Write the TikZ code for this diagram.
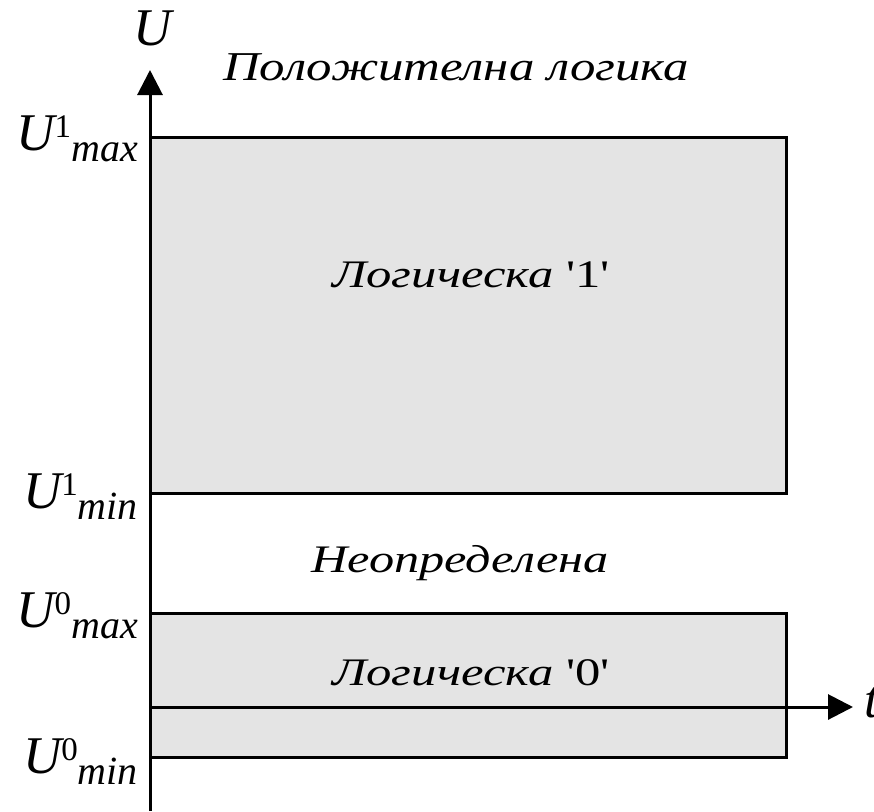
\documentclass[tikz,border=0pt]{standalone}
\usepackage{fontspec}
\setmainfont{Liberation Serif}[Ligatures=TeXOff]
\usetikzlibrary{arrows.meta}
\newcommand\ulbl[2]{{\fontsize{53}{60}\selectfont\itshape U}\raisebox{13pt}{\fontsize{33}{36}\selectfont #1}\raisebox{-11pt}{\fontsize{40}{44}\selectfont\itshape #2}}
\tikzset{
  zone/.style={draw=black,line width=3pt,fill=zonegray},
  axisline/.style={line width=3pt,-{Triangle[length=25pt,width=25pt]}},
  lbl/.style={inner sep=0pt,anchor=base east},
  txt/.style={inner sep=0pt,anchor=base,font=\fontsize{39}{44}\selectfont}
}
\definecolor{zonegray}{HTML}{E4E4E4}
\begin{document}
\begin{tikzpicture}[x=1pt,y=-1pt]
\useasboundingbox (0,0) rectangle (874,811);
\draw[zone] (150,137) rectangle (786,493);
\draw[zone] (150,613) rectangle (786,757);
\coordinate (o) at (150,811);
\coordinate (ytip) at (150,70);
\coordinate (xs) at (150,707);
\coordinate (xtip) at (853,707);
\draw[axisline] (o) -- (ytip);
\draw[axisline] (xs) -- (xtip);
\node[inner sep=0pt,anchor=base,font=\fontsize{53}{60}\selectfont\itshape] (U) at (153,45) {U};
\node[inner sep=0pt,anchor=base west,font=\fontsize{53}{60}\selectfont\itshape] (t) at (864,717) {t};
\node[txt,font=\fontsize{41}{46}\selectfont\itshape] (title) at (456,80) {\scalebox{1.24}[1]{Положителна логика}};
\node[txt] (one) at (471,287) {\scalebox{1.3}[1]{\textit{Логическа} '1'}};
\node[txt] (undef) at (460,572) {\scalebox{1.29}[1]{\textit{Неопределена}}};
\node[txt] (zero) at (471,685) {\scalebox{1.3}[1]{\textit{Логическа} '0'}};
\node[lbl] (u1max) at (138,150) {\ulbl{1}{max}};
\node[lbl] (u1min) at (138,508) {\ulbl{1}{min}};
\node[lbl] (u0max) at (138,627) {\ulbl{0}{max}};
\node[lbl] (u0min) at (138,773) {\ulbl{0}{min}};
\end{tikzpicture}
\end{document}
